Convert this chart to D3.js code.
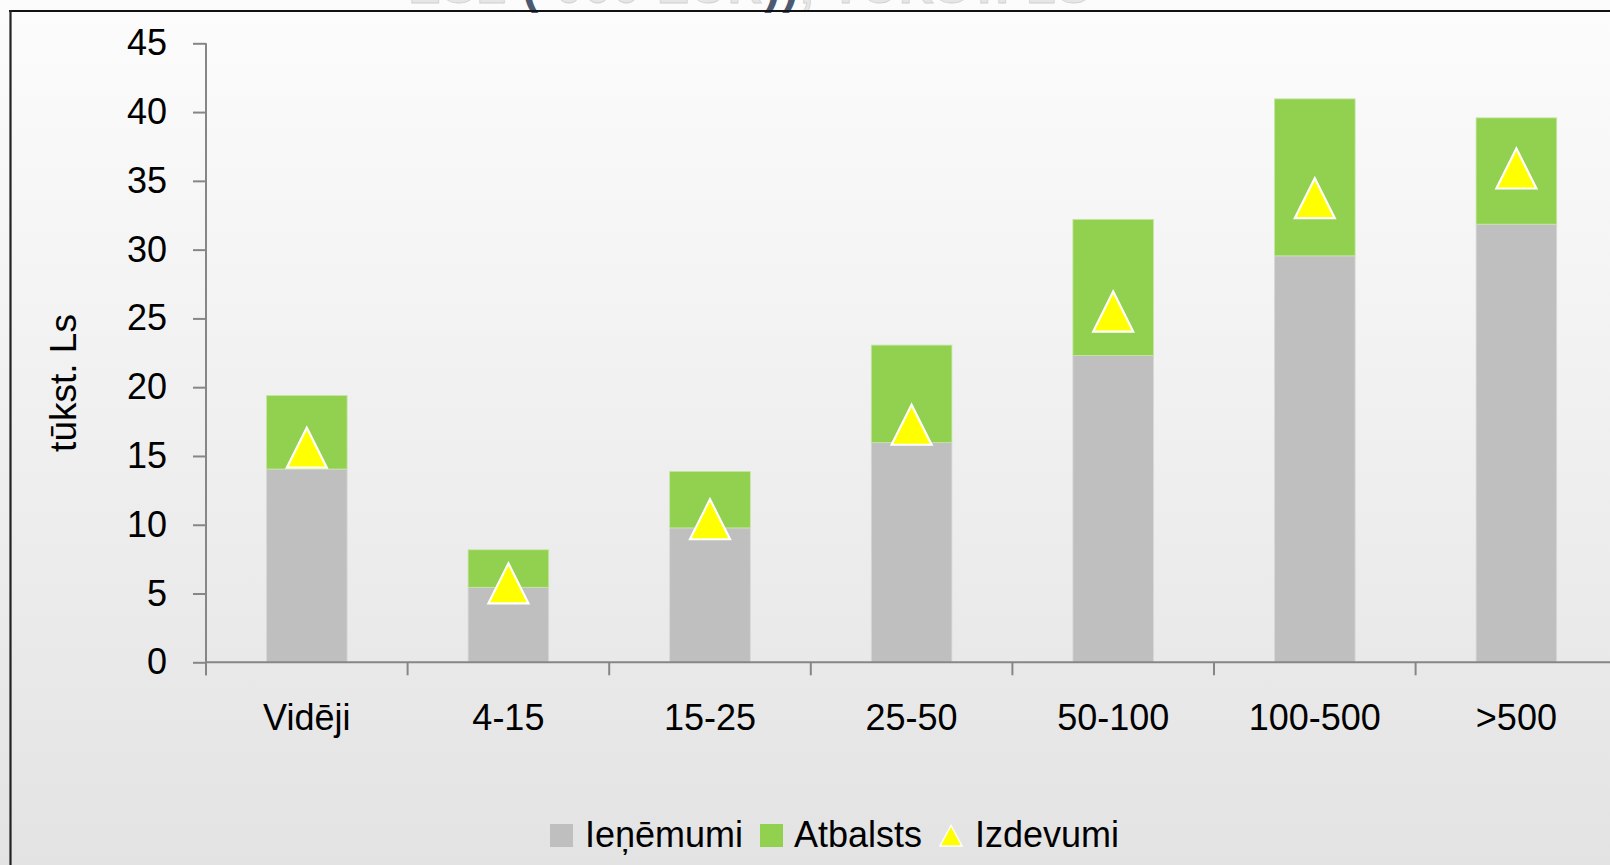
<!DOCTYPE html>
<html>
<head>
<meta charset="utf-8">
<script src="https://cdn.jsdelivr.net/npm/d3@7"></script>
<style>
  html, body { margin: 0; padding: 0; overflow: hidden; }
  body { width: 1610px; height: 865px; }
  svg { display: block; font-family: "Liberation Sans", Arial, sans-serif; }
</style>
</head>
<body>
<svg id="chart" width="1610" height="865"></svg>
<script>
// ---- data ----
const categories = ["Vidēji", "4-15", "15-25", "25-50", "50-100", "100-500", ">500"];
const ienemumi   = [14.05, 5.45, 9.77, 15.97, 22.3, 29.55, 31.85];
const atbalsts   = [5.35, 2.73, 4.11, 7.09, 9.9, 11.41, 7.73];
const izdevumi   = [15.6, 5.74, 10.4, 17.27, 25.5, 33.74, 35.9];
const yTicks     = [0, 5, 10, 15, 20, 25, 30, 35, 40, 45];
const seriesNames = ["Ieņēmumi", "Atbalsts", "Izdevumi"];
const colors = { gray: "#bfbfbf", green: "#92d050", yellow: "#ffff00" };

const svg = d3.select("#chart");

// background gradient
const defs = svg.append("defs");
const grad = defs.append("linearGradient").attr("id", "bg").attr("x1", 0).attr("y1", 0).attr("x2", 0).attr("y2", 1);
grad.append("stop").attr("offset", "0%").attr("stop-color", "#fcfcfc");
grad.append("stop").attr("offset", "100%").attr("stop-color", "#e3e3e3");
svg.append("rect").attr("width", 1610).attr("height", 865).attr("fill", "url(#bg)");

// cut-off title (only its lower edge is visible above the frame)
const title = svg.append("text")
  .attr("x", 750).attr("y", 3)
  .attr("text-anchor", "middle")
  .attr("font-size", 48).attr("font-weight", "bold").attr("letter-spacing", 2)
  .attr("fill", "#e6e6e6").attr("stroke", "#d2d2d2").attr("stroke-width", 0.8);
title.append("tspan").text("ESL ");
title.append("tspan").text("(").attr("fill", "#4b5a70").attr("stroke", "none");
title.append("tspan").text(" 000 EUR");
title.append("tspan").text("))").attr("fill", "#4b5a70").attr("stroke", "none");
title.append("tspan").text(", TŪKST. LS");

// frame
svg.append("line").attr("x1", 9).attr("x2", 1610).attr("y1", 11).attr("y2", 11)
  .attr("stroke", "#111").attr("stroke-width", 2.2);
svg.append("line").attr("x1", 10.5).attr("x2", 10.5).attr("y1", 10).attr("y2", 865)
  .attr("stroke", "#222").attr("stroke-width", 2.2);

// scales
const x0 = 206, x1 = 1617.2;
const x = d3.scaleBand().domain(categories).range([x0, x1]).paddingInner(0.6).paddingOuter(0.3);
const y = d3.scaleLinear().domain([0, 45]).range([662.3, 43.3]);
const step = x.step();
const bw = x.bandwidth();

const axisColor = "#868686";

// y axis
const yAxis = d3.axisLeft(y).tickValues(yTicks).tickSize(13).tickPadding(26).tickFormat(d3.format("d"));
const gy = svg.append("g").attr("transform", `translate(${x0},0)`).call(yAxis);
gy.select(".domain").remove();
gy.selectAll(".tick line").attr("stroke", axisColor).attr("stroke-width", 2);
gy.selectAll(".tick text").attr("font-size", 36).attr("fill", "#000")
  .attr("font-family", "Liberation Sans, Arial, sans-serif");
svg.append("line").attr("x1", x0).attr("x2", x0).attr("y1", y(45)).attr("y2", y(0) + 13)
  .attr("stroke", axisColor).attr("stroke-width", 2);

// bars
const g = svg.append("g");
categories.forEach((c, i) => {
  g.append("rect")
    .attr("x", x(c)).attr("width", bw)
    .attr("y", y(ienemumi[i])).attr("height", y(0) - y(ienemumi[i]))
    .attr("fill", colors.gray).attr("stroke", "#d9d9d9").attr("stroke-width", 0.8);
  g.append("rect")
    .attr("x", x(c)).attr("width", bw)
    .attr("y", y(ienemumi[i] + atbalsts[i])).attr("height", y(ienemumi[i]) - y(ienemumi[i] + atbalsts[i]))
    .attr("fill", colors.green).attr("stroke", "#c8e6a8").attr("stroke-width", 0.8);
});

// x axis
svg.append("line").attr("x1", x0).attr("x2", x1).attr("y1", y(0)).attr("y2", y(0))
  .attr("stroke", axisColor).attr("stroke-width", 2);
d3.range(categories.length + 1).forEach(i => {
  const bx = x0 + i * step;
  svg.append("line").attr("x1", bx).attr("x2", bx).attr("y1", y(0)).attr("y2", y(0) + 13)
    .attr("stroke", axisColor).attr("stroke-width", 2);
});
svg.append("g").selectAll("text").data(categories).join("text")
  .attr("x", d => x(d) + bw / 2).attr("y", 730)
  .attr("text-anchor", "middle").attr("font-size", 36).attr("fill", "#000")
  .text(d => d);

// triangles
const triPath = (size) => `M0,${-size / 2}L${size / 2},${size / 2}L${-size / 2},${size / 2}Z`;
svg.append("g").selectAll("path").data(izdevumi).join("path")
  .attr("transform", (d, i) => `translate(${x(categories[i]) + bw / 2},${y(d)})`)
  .attr("d", triPath(40))
  .attr("fill", colors.yellow).attr("stroke", "#fff").attr("stroke-width", 2.2)
  .attr("stroke-linejoin", "miter");

// y label
svg.append("text")
  .attr("transform", "translate(76,383) rotate(-90)")
  .attr("text-anchor", "middle").attr("font-size", 37).attr("fill", "#000")
  .text("tūkst. Ls");

// legend
const lg = svg.append("g");
lg.append("rect").attr("x", 550).attr("y", 824).attr("width", 23).attr("height", 23).attr("fill", colors.gray);
lg.append("text").attr("x", 585).attr("y", 847).attr("font-size", 36).attr("fill", "#000").text(seriesNames[0]);
lg.append("rect").attr("x", 760).attr("y", 824).attr("width", 23).attr("height", 23).attr("fill", colors.green);
lg.append("text").attr("x", 794).attr("y", 847).attr("font-size", 36).attr("fill", "#000").text(seriesNames[1]);
lg.append("path").attr("d", "M951,825.5L962,846L940,846Z")
  .attr("fill", colors.yellow).attr("stroke", "#fff").attr("stroke-width", 1.5);
lg.append("text").attr("x", 975).attr("y", 847).attr("font-size", 36).attr("fill", "#000").text(seriesNames[2]);
</script>
</body>
</html>
